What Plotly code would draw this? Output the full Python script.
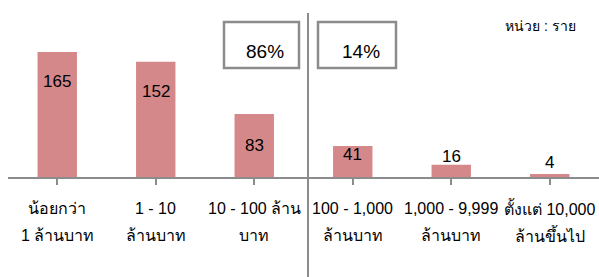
import plotly.graph_objects as go

categories = ["น้อยกว่า<br>1 ล้านบาท", "1 - 10<br>ล้านบาท", "10 - 100 ล้าน<br>บาท",
              "100 - 1,000<br>ล้านบาท", "1,000 - 9,999<br>ล้านบาท", "ตั้งแต่ 10,000<br>ล้านขึ้นไป"]
values = [165, 152, 83, 41, 16, 4]
share_left = "86%"
share_right = "14%"
unit_text = "หน่วย : ราย"

# label offsets (px) relative to bar tops
label_shift = [-30, -30, -31, -9, 8, 11]

W, H = 599, 277
L, R, T, B = 8, 0, 10, 100
pw, ph = W - L - R, H - T - B
ymax = 220.3

def px(x):
    return (x - L) / pw

def py(y):
    return (H - B - y) / ph

FONT = "Liberation Sans, Noto Sans, DejaVu Sans, sans-serif"
bar_color = "#D4888A"
grey = "#8C8C8C"

fig = go.Figure(go.Bar(
    x=list(range(len(values))), y=values, marker=dict(color=bar_color, line=dict(width=0)),
    width=0.4, hoverinfo="skip"))

for i, v in enumerate(values):
    fig.add_annotation(x=i, y=v, text=str(v), showarrow=False, yshift=label_shift[i],
                       yanchor="middle", xanchor="center",
                       font=dict(size=17, color="#000", family=FONT))

# category labels, two lines each
for i, c in enumerate(categories):
    for k, line in enumerate(c.split("<br>")):
        fig.add_annotation(x=i, xref="x", yref="paper", y=py(208 + 27 * k), text=line,
                           showarrow=False, xanchor="center", yanchor="middle",
                           font=dict(size=16, color="#000", family=FONT))

# divider line
fig.add_shape(type="line", xref="paper", yref="paper", x0=px(308), x1=px(308),
              y0=py(13), y1=py(277), line=dict(color=grey, width=2))

# share boxes
for (x0, x1, tx, txt) in [(224, 299, 265, share_left), (318, 396, 361, share_right)]:
    fig.add_shape(type="rect", xref="paper", yref="paper", x0=px(x0), x1=px(x1),
                  y0=py(68), y1=py(22), line=dict(color=grey, width=2.5))
    fig.add_annotation(xref="paper", yref="paper", x=px(tx), y=py(51), text=txt,
                       showarrow=False, xanchor="center", yanchor="middle",
                       font=dict(size=19, color="#000", family=FONT))

fig.add_annotation(xref="paper", yref="paper", x=px(540), y=py(26), text=unit_text,
                   showarrow=False, xanchor="center", yanchor="middle",
                   font=dict(size=14, color="#000", family=FONT))

fig.update_layout(
    width=W, height=H, margin=dict(l=L, r=R, t=T, b=B),
    paper_bgcolor="white", plot_bgcolor="white", showlegend=False,
    xaxis=dict(tickmode="array", tickvals=list(range(len(values))),
               ticktext=[""] * len(values),
               range=[-0.5, len(values) - 0.5], showline=True, linecolor=grey, linewidth=1.5,
               ticks="outside", tickson="boundaries", ticklen=6, tickcolor=grey, tickwidth=1.5,
               showgrid=False, zeroline=False),
    yaxis=dict(range=[0, ymax], visible=False, showgrid=False, zeroline=False),
)

fig.write_html("out.html", config={"displayModeBar": False},
               post_script="document.body.style.margin='0';document.body.style.overflow='hidden';")
